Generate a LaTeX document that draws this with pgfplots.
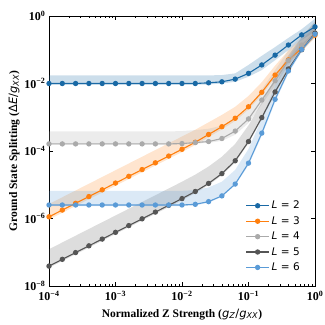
\documentclass[border=0pt]{standalone}
\usepackage{pgfplots}
\pgfplotsset{compat=1.18}
\usepackage{pgfplotstable}
\usepgfplotslibrary{fillbetween}
\usepackage{fontspec}
\setmainfont{Liberation Serif}
\newfontfamily\dv{DejaVu Sans}

\definecolor{cA}{RGB}{25,105,165}
\definecolor{cB}{RGB}{255,127,14}
\definecolor{cC}{RGB}{170,170,170}
\definecolor{cD}{RGB}{85,85,85}
\definecolor{cE}{RGB}{90,155,215}

\newcommand{\tl}[1]{\textbf{10}\textsuperscript{\textbf{#1}}}

% L = 2
\pgfplotstableread{
x y lo hi
1e-4 1.000e-2 9.333e-3 1.738e-2
1.585e-4 1.000e-2 9.333e-3 1.738e-2
2.512e-4 1.000e-2 9.333e-3 1.738e-2
3.981e-4 1.000e-2 9.333e-3 1.738e-2
6.310e-4 1.000e-2 9.333e-3 1.738e-2
1e-3 1.000e-2 9.333e-3 1.738e-2
1.585e-3 1.000e-2 9.333e-3 1.738e-2
2.512e-3 1.000e-2 9.333e-3 1.738e-2
3.981e-3 1.000e-2 9.333e-3 1.738e-2
6.310e-3 1.000e-2 9.333e-3 1.738e-2
1e-2 1.000e-2 9.333e-3 1.738e-2
1.585e-2 1.000e-2 9.333e-3 1.738e-2
2.512e-2 1.047e-2 9.333e-3 1.738e-2
3.981e-2 1.122e-2 1.000e-2 1.778e-2
6.310e-2 1.349e-2 1.122e-2 1.995e-2
1e-1 1.995e-2 1.585e-2 3.548e-2
1.585e-1 3.548e-2 2.512e-2 6.607e-2
2.512e-1 6.918e-2 4.898e-2 1.202e-1
3.981e-1 1.380e-1 9.772e-2 2.239e-1
6.310e-1 2.754e-1 1.950e-1 4.074e-1
1 4.786e-1 3.467e-1 8.318e-1
}\tabA

% L = 3
\pgfplotstableread{
x y lo hi
1e-4 1.122e-6 9.333e-7 2.692e-6
1.585e-4 1.778e-6 1.479e-6 4.266e-6
2.512e-4 2.818e-6 2.344e-6 6.761e-6
3.981e-4 4.467e-6 3.715e-6 1.072e-5
6.310e-4 7.079e-6 5.888e-6 1.698e-5
1e-3 1.122e-5 9.333e-6 2.692e-5
1.585e-3 1.778e-5 1.479e-5 4.266e-5
2.512e-3 2.818e-5 2.344e-5 6.761e-5
3.981e-3 4.467e-5 3.715e-5 1.072e-4
6.310e-3 7.079e-5 5.888e-5 1.698e-4
1e-2 1.122e-4 9.333e-5 2.692e-4
1.585e-2 1.820e-4 1.514e-4 4.266e-4
2.512e-2 3.090e-4 2.570e-4 7.079e-4
3.981e-2 5.248e-4 4.365e-4 1.175e-3
6.310e-2 9.333e-4 7.762e-4 2.042e-3
1e-1 2.042e-3 1.698e-3 4.266e-3
1.585e-1 5.495e-3 4.571e-3 1.096e-2
2.512e-1 1.778e-2 1.479e-2 3.388e-2
3.981e-1 5.012e-2 4.169e-2 9.550e-2
6.310e-1 1.096e-1 9.120e-2 1.995e-1
1 2.692e-1 2.239e-1 4.677e-1
}\tabB

% L = 4
\pgfplotstableread{
x y lo hi
1e-4 1.622e-4 1.549e-4 3.802e-4
1.585e-4 1.622e-4 1.549e-4 3.802e-4
2.512e-4 1.622e-4 1.549e-4 3.802e-4
3.981e-4 1.622e-4 1.549e-4 3.802e-4
6.310e-4 1.622e-4 1.549e-4 3.802e-4
1e-3 1.622e-4 1.549e-4 3.802e-4
1.585e-3 1.622e-4 1.549e-4 3.802e-4
2.512e-3 1.622e-4 1.549e-4 3.802e-4
3.981e-3 1.622e-4 1.549e-4 3.802e-4
6.310e-3 1.622e-4 1.549e-4 3.802e-4
1e-2 1.660e-4 1.585e-4 3.890e-4
1.585e-2 1.778e-4 1.660e-4 4.169e-4
2.512e-2 1.905e-4 1.738e-4 4.571e-4
3.981e-2 2.344e-4 1.995e-4 5.623e-4
6.310e-2 3.890e-4 3.020e-4 8.511e-4
1e-1 8.913e-4 6.761e-4 1.862e-3
1.585e-1 3.236e-3 2.399e-3 6.607e-3
2.512e-1 1.202e-2 8.710e-3 2.512e-2
3.981e-1 4.786e-2 3.467e-2 9.550e-2
6.310e-1 1.380e-1 1.000e-1 2.754e-1
1 3.162e-1 2.291e-1 6.026e-1
}\tabC

% L = 5
\pgfplotstableread{
x y lo hi
1e-4 3.890e-8 3.467e-8 1.230e-7
1.585e-4 6.166e-8 5.495e-8 1.950e-7
2.512e-4 9.772e-8 8.710e-8 3.090e-7
3.981e-4 1.549e-7 1.380e-7 4.898e-7
6.310e-4 2.455e-7 2.188e-7 7.762e-7
1e-3 3.890e-7 3.467e-7 1.230e-6
1.585e-3 6.166e-7 5.495e-7 1.950e-6
2.512e-3 9.772e-7 8.710e-7 3.090e-6
3.981e-3 1.549e-6 1.380e-6 4.898e-6
6.310e-3 2.455e-6 2.188e-6 7.762e-6
1e-2 3.890e-6 3.467e-6 1.230e-5
1.585e-2 6.310e-6 5.623e-6 1.995e-5
2.512e-2 1.096e-5 9.772e-6 3.467e-5
3.981e-2 2.138e-5 1.905e-5 6.761e-5
6.310e-2 5.129e-5 4.571e-5 1.622e-4
1e-1 1.905e-4 1.698e-4 5.754e-4
1.585e-1 9.772e-4 8.710e-4 2.754e-3
2.512e-1 5.623e-3 5.012e-3 1.479e-2
3.981e-1 2.692e-2 2.399e-2 6.761e-2
6.310e-1 1.000e-1 8.913e-2 2.399e-1
1 3.090e-1 2.754e-1 6.918e-1
}\tabD

% L = 6
\pgfplotstableread{
x y lo hi
1e-4 2.512e-6 2.344e-6 6.607e-6
1.585e-4 2.512e-6 2.344e-6 6.607e-6
2.512e-4 2.512e-6 2.344e-6 6.607e-6
3.981e-4 2.512e-6 2.344e-6 6.607e-6
6.310e-4 2.512e-6 2.344e-6 6.607e-6
1e-3 2.512e-6 2.344e-6 6.607e-6
1.585e-3 2.512e-6 2.344e-6 6.607e-6
2.512e-3 2.512e-6 2.344e-6 6.607e-6
3.981e-3 2.512e-6 2.344e-6 6.607e-6
6.310e-3 2.512e-6 2.344e-6 6.607e-6
1e-2 2.512e-6 2.344e-6 6.607e-6
1.585e-2 2.630e-6 2.455e-6 6.918e-6
2.512e-2 3.162e-6 2.951e-6 8.318e-6
3.981e-2 4.677e-6 4.365e-6 1.230e-5
6.310e-2 1.047e-5 9.772e-6 2.754e-5
1e-1 4.365e-5 3.802e-5 1.148e-4
1.585e-1 3.388e-4 2.818e-4 8.913e-4
2.512e-1 3.388e-3 2.818e-3 8.511e-3
3.981e-1 2.344e-2 1.995e-2 5.623e-2
6.310e-1 1.023e-1 8.710e-2 2.239e-1
1 2.884e-1 2.512e-1 5.623e-1
}\tabE

\begin{document}
\begin{tikzpicture}
\begin{axis}[
    scale only axis,
    width=266pt, height=270pt,
    xmode=log, ymode=log,
    xmin=1e-4, xmax=1, ymin=1e-8, ymax=1,
    xtick={1e-4,1e-3,1e-2,1e-1,1},
    xticklabels={\tl{−4},\tl{−3},\tl{−2},\tl{−1},\tl{0}},
    ytick={1e-8,1e-6,1e-4,1e-2,1},
    yticklabels={\tl{−8},\tl{−6},\tl{−4},\tl{−2},\tl{0}},
    minor xtick={2e-4,3e-4,4e-4,5e-4,6e-4,7e-4,8e-4,9e-4,
                 2e-3,3e-3,4e-3,5e-3,6e-3,7e-3,8e-3,9e-3,
                 2e-2,3e-2,4e-2,5e-2,6e-2,7e-2,8e-2,9e-2,
                 2e-1,3e-1,4e-1,5e-1,6e-1,7e-1,8e-1,9e-1},
    minor ytick={},
    tick align=inside,
    major tick length=4pt, minor tick length=2pt,
    every tick/.style={black, line width=0.7pt},
    axis line style={line width=0.9pt},
    tick label style={font=\fontsize{12}{13}\selectfont},
    xticklabel style={yshift=-1.5pt},
    label style={font=\fontsize{11.5}{13}\selectfont},
    xlabel={\textbf{Normalized Z Strength (}{\dv\textit{g}\textsubscript{\textit{Z}}/\textit{g}\textsubscript{\textit{XX}}}\textbf{)}},
    ylabel={\textbf{Ground State Splitting (}{\dv Δ\textit{E}/\textit{g}\textsubscript{\textit{XX}}}\textbf{)}},
    xlabel style={yshift=-1pt},
    ylabel style={yshift=-2pt},
    legend style={at={(0.962,0.036)}, anchor=south east, draw=none, fill=none,
        font=\dv\fontsize{10.5}{11}\selectfont, row sep=2.2pt},
    legend cell align=left,
    legend image code/.code={\draw[mark repeat=2,mark phase=2] plot coordinates {(0pt,0pt) (11.5pt,0pt) (23pt,0pt)};},
    every axis plot/.append style={line width=1.1pt},
    mark size=2.1pt,
]
\coordinate (bl) at (rel axis cs:0,0);
\coordinate (tr) at (rel axis cs:1,1);

% bands
\addplot[draw=none, forget plot, name path=aL] table[x=x,y=lo] {\tabA};
\addplot[draw=none, forget plot, name path=aH] table[x=x,y=hi] {\tabA};
\addplot[fill=cA, fill opacity=0.22, draw=none, forget plot] fill between[of=aL and aH];
\addplot[draw=none, forget plot, name path=bL] table[x=x,y=lo] {\tabB};
\addplot[draw=none, forget plot, name path=bH] table[x=x,y=hi] {\tabB};
\addplot[fill=cB, fill opacity=0.2, draw=none, forget plot] fill between[of=bL and bH];
\addplot[draw=none, forget plot, name path=cL] table[x=x,y=lo] {\tabC};
\addplot[draw=none, forget plot, name path=cH] table[x=x,y=hi] {\tabC};
\addplot[fill=cC, fill opacity=0.22, draw=none, forget plot] fill between[of=cL and cH];
\addplot[draw=none, forget plot, name path=dL] table[x=x,y=lo] {\tabD};
\addplot[draw=none, forget plot, name path=dH] table[x=x,y=hi] {\tabD};
\addplot[fill=cD, fill opacity=0.2, draw=none, forget plot] fill between[of=dL and dH];
\addplot[draw=none, forget plot, name path=eL] table[x=x,y=lo] {\tabE};
\addplot[draw=none, forget plot, name path=eH] table[x=x,y=hi] {\tabE};
\addplot[fill=cE, fill opacity=0.22, draw=none, forget plot] fill between[of=eL and eH];

% lines
\addplot[cA, mark=*, mark options={fill=cA}] table[x=x,y=y] {\tabA};
\addlegendentry{\textit{L} = 2}
\addplot[cB, mark=*, mark options={fill=cB}] table[x=x,y=y] {\tabB};
\addlegendentry{\textit{L} = 3}
\addplot[cC, mark=*, mark options={fill=cC}] table[x=x,y=y] {\tabC};
\addlegendentry{\textit{L} = 4}
\addplot[cD, mark=*, mark options={fill=cD}] table[x=x,y=y] {\tabD};
\addlegendentry{\textit{L} = 5}
\addplot[cE, mark=*, mark options={fill=cE}] table[x=x,y=y] {\tabE};
\addlegendentry{\textit{L} = 6}
\end{axis}
\pgfresetboundingbox
\path[use as bounding box] ([shift={(-49pt,-39pt)}]bl) rectangle ([shift={(10pt,16pt)}]tr);
\end{tikzpicture}
\end{document}
